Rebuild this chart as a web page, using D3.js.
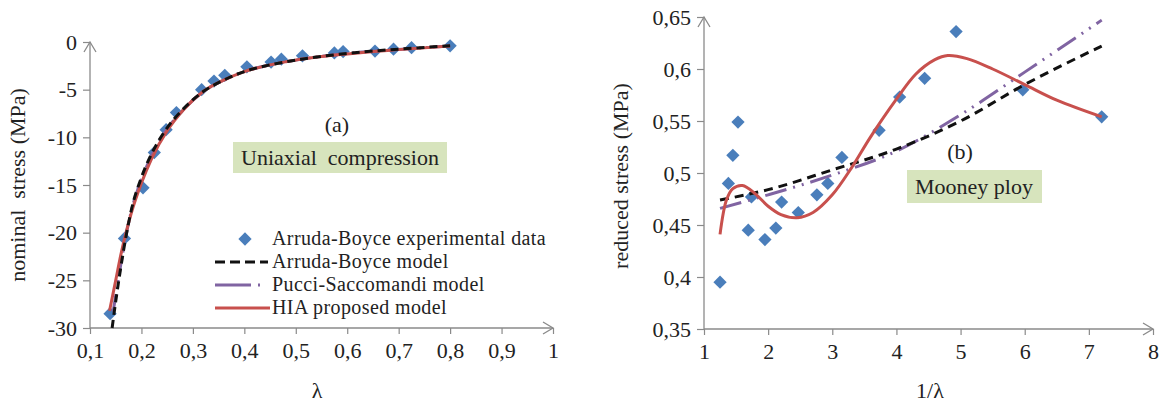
<!DOCTYPE html>
<html>
<head>
<meta charset="utf-8">
<script src="https://cdn.jsdelivr.net/npm/d3@7"></script>
<style>
  body { margin: 0; background: #fff; }
  svg text { font-family: "Liberation Serif", "Times New Roman", Times, serif; fill: #222; }
</style>
</head>
<body>
<div id="chart"></div>
<script>
//  data

//  (a) uniaxial compression: experimental points
const lamExp = [0.139, 0.167, 0.203, 0.225, 0.248, 0.268, 0.317, 0.341, 0.362, 0.405, 0.452, 0.472, 0.513, 0.575, 0.592, 0.654, 0.69, 0.725, 0.8];
const stressExp = [-28.5, -20.6, -15.3, -11.6, -9.2, -7.4, -5.0, -4.1, -3.5, -2.6, -2.1, -1.8, -1.45, -1.15, -1.0, -0.95, -0.75, -0.6, -0.4];

//  (a) model curves
const lamAB = [0.143, 0.15, 0.16, 0.17, 0.18, 0.2, 0.22, 0.25, 0.28, 0.32, 0.36, 0.4, 0.45, 0.5, 0.6, 0.7, 0.8];
const stressAB = [-30, -27.2, -23.6, -20.4, -17.7, -14.2, -11.7, -9.0, -7.1, -5.2, -4.0, -3.1, -2.4, -1.9, -1.2, -0.75, -0.4];
const lamPS = [0.145, 0.15, 0.16, 0.17, 0.18, 0.2, 0.22, 0.25, 0.28, 0.32, 0.36, 0.4, 0.45, 0.5, 0.6, 0.7, 0.8];
const stressPS = [-28.3, -26.6, -23.3, -20.3, -17.8, -14.4, -11.9, -9.1, -7.2, -5.2, -4.0, -3.1, -2.4, -1.9, -1.2, -0.78, -0.42];
const lamHIA = [0.138, 0.15, 0.16, 0.17, 0.18, 0.2, 0.22, 0.25, 0.28, 0.32, 0.36, 0.4, 0.45, 0.5, 0.6, 0.7, 0.8];
const stressHIA = [-28.2, -25.0, -22.3, -20.0, -18.0, -14.8, -12.2, -9.3, -7.2, -5.2, -4.0, -3.1, -2.4, -1.9, -1.25, -0.8, -0.42];

//  (b) Mooney plot: experimental points
const invLamExp = [1.25, 1.38, 1.45, 1.53, 1.69, 1.74, 1.95, 2.12, 2.21, 2.47, 2.76, 2.93, 3.15, 3.73, 4.05, 4.44, 4.93, 5.97, 7.2];
const reducedExp = [0.395, 0.49, 0.517, 0.549, 0.445, 0.477, 0.436, 0.447, 0.472, 0.462, 0.479, 0.49, 0.515, 0.541, 0.573, 0.591, 0.636, 0.58, 0.554];

//  (b) model curves
const invLamAB = [1.25, 2, 3, 4, 5, 6, 7.2];
const reducedAB = [0.474, 0.484, 0.503, 0.523, 0.55, 0.585, 0.622];
const invLamPS = [1.25, 2, 3, 4, 5, 6, 7.2];
const reducedPS = [0.466, 0.479, 0.498, 0.521, 0.556, 0.597, 0.647];
const invLamHIA = [1.25, 1.35, 1.45, 1.6, 1.8, 2.0, 2.2, 2.45, 2.7, 3.0, 3.3, 3.6, 4.0, 4.3, 4.6, 4.8, 5.1, 5.5, 6.0, 6.5, 7.2];
const reducedHIA = [0.441, 0.474, 0.485, 0.488, 0.48, 0.468, 0.46, 0.457, 0.462, 0.479, 0.505, 0.535, 0.571, 0.595, 0.609, 0.613, 0.61, 0.6, 0.585, 0.57, 0.554];

//  tick values
const lamTicks = [0.1, 0.2, 0.3, 0.4, 0.5, 0.6, 0.7, 0.8, 0.9, 1];
const stressTicks = [0, -5, -10, -15, -20, -25, -30];
const invLamTicks = [1, 2, 3, 4, 5, 6, 7, 8];
const reducedTicks = [0.35, 0.4, 0.45, 0.5, 0.55, 0.6, 0.65];

//  legend
const legendNames = ['Arruda-Boyce experimental data', 'Arruda-Boyce model', 'Pucci-Saccomandi model', 'HIA proposed model'];

const blue = '#4a7ebb';
const black = '#111';
const purple = '#8064a2';
const red = '#c8504d';
const axisGrey = '#8a8a8a';
const fontSize = 22;
const serif = '"Liberation Serif", "Times New Roman", Times, serif';

//  decimal comma like the original
const comma = d => String(d).replace('.', ',');
const zip = (xs, ys) => xs.map((x, i) => [x, ys[i]]);

const svg = d3.select('#chart')
  .append('svg')
    .attr('width', 1167)
    .attr('height', 403);

//  open arrow head for the axes
svg.append('defs')
  .append('marker')
    .attr('id', 'arrow')
    .attr('viewBox', '-12 -8 14 16')
    .attr('markerWidth', 14)
    .attr('markerHeight', 16)
    .attr('markerUnits', 'userSpaceOnUse')
    .attr('orient', 'auto')
  .append('path')
    .attr('d', 'M-10,-6L0,0L-10,6')
    .attr('fill', 'none')
    .attr('stroke', axisGrey)
    .attr('stroke-width', 1.3);

// draw the two axes of one panel
function drawAxes (x, y, xTicks, yTicks, fmtX, fmtY) {
  const [x0, x1] = x.range();
  const [y0, y1] = y.range();
  const gx = svg.append('g')
    .attr('transform', `translate(0,${y0})`)
    .call(d3.axisBottom(x).tickValues(xTicks).tickFormat(fmtX).tickSize(6).tickPadding(8));
  const gy = svg.append('g')
    .attr('transform', `translate(${x0},0)`)
    .call(d3.axisLeft(y).tickValues(yTicks).tickFormat(fmtY).tickSize(7).tickPadding(6));
  [gx, gy].forEach(g => {
    g.select('.domain').remove();
    g.selectAll('line').attr('stroke', axisGrey).attr('stroke-width', 1.2);
    g.selectAll('text')
      .style('font-family', serif)
      .style('font-size', fontSize + 'px')
      .attr('fill', '#222');
  });
  svg.append('line')
    .attr('x1', x0).attr('y1', y0).attr('x2', x1).attr('y2', y0)
    .attr('stroke', axisGrey).attr('stroke-width', 1.3)
    .attr('marker-end', 'url(#arrow)');
  svg.append('line')
    .attr('x1', x0).attr('y1', y0).attr('x2', x0).attr('y2', y1)
    .attr('stroke', axisGrey).attr('stroke-width', 1.3)
    .attr('marker-end', 'url(#arrow)');
}

function drawLine (x, y, pts, color, dash, curve) {
  return svg.append('path')
    .datum(pts)
    .attr('fill', 'none')
    .attr('stroke', color)
    .attr('stroke-width', 3)
    .attr('stroke-dasharray', dash)
    .attr('d', d3.line().x(d => x(d[0])).y(d => y(d[1])).curve(curve));
}

const diamond = d3.symbol().type(d3.symbolSquare).size(88);

function drawPoints (x, y, pts) {
  svg.append('g')
    .selectAll('path')
    .data(pts)
    .join('path')
      .attr('d', diamond)
      .attr('fill', blue)
      .attr('transform', d => `translate(${x(d[0])},${y(d[1])}) rotate(45)`);
}

function label (text, x, y, opts = {}) {
  return svg.append('text')
    .attr('x', x)
    .attr('y', y)
    .attr('text-anchor', opts.anchor || 'middle')
    .attr('transform', opts.rotate ? `rotate(-90,${x},${y})` : null)
    .style('font-family', serif)
    .style('font-size', (opts.size || fontSize) + 'px')
    .style('white-space', 'pre')
    .text(text);
}

//  Panel (a) //
const xA = d3.scaleLinear().domain([0.1, 1]).range([90, 553]);
const yA = d3.scaleLinear().domain([-30, 0]).range([328, 42]);

drawAxes(xA, yA, lamTicks, stressTicks, comma, d => String(d));

drawPoints(xA, yA, zip(lamExp, stressExp));
drawLine(xA, yA, zip(lamPS, stressPS), purple, '18,5,2,5,2,5', d3.curveMonotoneX);
drawLine(xA, yA, zip(lamHIA, stressHIA), red, null, d3.curveMonotoneX);
drawLine(xA, yA, zip(lamAB, stressAB), black, '8,5', d3.curveMonotoneX);

label('(a)', 337, 132);
svg.append('rect')
  .attr('x', 233).attr('y', 142).attr('width', 214).attr('height', 31)
  .attr('fill', '#d7e4bd');
label('Uniaxial  compression', 340, 165);

label('λ', 317, 398);
label('nominal  stress (MPa)', 25, 185, { rotate: true });

//  legend
const legY = [239, 262, 285, 308];
svg.append('path')
  .attr('d', diamond)
  .attr('fill', blue)
  .attr('transform', `translate(245,${legY[0]}) rotate(45)`);
svg.append('line')
  .attr('x1', 215).attr('x2', 268).attr('y1', legY[1]).attr('y2', legY[1])
  .attr('stroke', black).attr('stroke-width', 3).attr('stroke-dasharray', '10,5');
svg.append('line')
  .attr('x1', 215).attr('x2', 270).attr('y1', legY[2]).attr('y2', legY[2])
  .attr('stroke', purple).attr('stroke-width', 3).attr('stroke-dasharray', '36,7,2,20');
svg.append('line')
  .attr('x1', 215).attr('x2', 270).attr('y1', legY[3]).attr('y2', legY[3])
  .attr('stroke', red).attr('stroke-width', 3);
legendNames.forEach((name, i) => {
  label(name, 272, legY[i] + 6, { anchor: 'start', size: 20 })
    .style('letter-spacing', '0.4px');
});

//  Panel (b) //
const xB = d3.scaleLinear().domain([1, 8]).range([704, 1153]);
const yB = d3.scaleLinear().domain([0.35, 0.65]).range([329, 17]);

drawAxes(xB, yB, invLamTicks, reducedTicks, d => String(d), comma);

drawPoints(xB, yB, zip(invLamExp, reducedExp));
drawLine(xB, yB, zip(invLamPS, reducedPS), purple, '22,7,2,7,2,7', d3.curveMonotoneX);
drawLine(xB, yB, zip(invLamAB, reducedAB), black, '9,6', d3.curveMonotoneX);
drawLine(xB, yB, zip(invLamHIA, reducedHIA), red, null, d3.curveCatmullRom);

label('(b)', 960, 159);
svg.append('rect')
  .attr('x', 907).attr('y', 170).attr('width', 135).attr('height', 33)
  .attr('fill', '#d7e4bd');
label('Mooney ploy', 974, 194);

label('1/λ', 930, 398);
label('reduced stress (MPa)', 628, 176, { rotate: true });
</script>
</body>
</html>
